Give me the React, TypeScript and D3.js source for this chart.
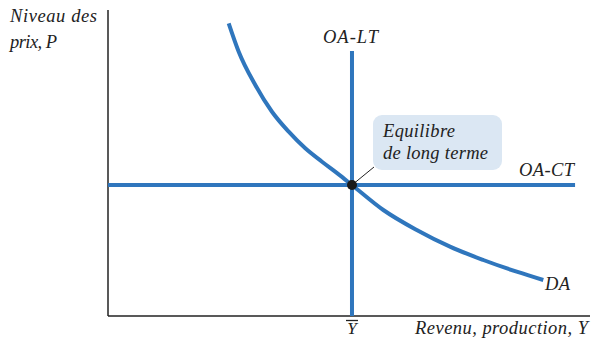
import React from "react";
import * as d3 from "d3";

// Aggregate demand curve (DA) points: [output Y, price level P]
const daY = [25.04, 27.12, 30.56, 34.02, 37.49, 40.93, 44.4, 47.86, 50.62, 57.12, 64.05, 70.95, 77.86, 84.79, 90.31];
const daP = [95.65, 86.37, 75.49, 66.76, 60.23, 54.8, 50.42, 46.3, 42.81, 34.64, 28.1, 22.65, 18.3, 14.48, 11.76];
const potentialY = 50.62; // Ȳ, OA-LT
const equilibriumP = 42.81; // OA-CT price level
const oaltTop = 86.6;
const oactRight = 96.9;
const yAxisLabel = ["Niveau des", "prix, P"];
const xAxisLabel = "Revenu, production, Y";
const ybarLabel = "Y";
const oaltLabel = "OA-LT";
const oactLabel = "OA-CT";
const daLabel = "DA";
const calloutLines = ["Equilibre", "de long terme"];

export default function App() {
  const W = 591, H = 339;
  const x = d3.scaleLinear().domain([0, 100]).range([108, 590]);
  const y = d3.scaleLinear().domain([0, 100]).range([316, 10]);
  const blue = "#2f76bd";
  const font = "Liberation Serif, DejaVu Serif, Times New Roman, serif";
  const pts: [number, number][] = daY.map((v, i) => [v, daP[i]]);
  const line = d3
    .line<[number, number]>()
    .x((d) => x(d[0]))
    .y((d) => y(d[1]))
    .curve(d3.curveMonotoneX);
  const ex = x(potentialY), ey = y(equilibriumP);
  const tp = { fontFamily: font, fontStyle: "italic", fontSize: 18.5, fill: "#222", lengthAdjust: "spacing" } as const;
  return (
    <svg width={W} height={H} style={{ position: "absolute", left: 0, top: 0 }}>
      <rect width={W} height={H} fill="#fff" />
      {/* callout */}
      <rect x={373} y={115} width={129} height={55} rx={9} fill="#dbe7f3" />
      <line x1={ex} y1={ey} x2={374} y2={167} stroke="#222" strokeWidth={1} />
      <text x={383} y={137} textLength={72} {...tp}>{calloutLines[0]}</text>
      <text x={383} y={159} textLength={105} {...tp}>{calloutLines[1]}</text>
      {/* axes */}
      <line x1={x(0)} y1={y(100)} x2={x(0)} y2={y(0)} stroke="#222" strokeWidth={1.5} />
      <line x1={x(0)} y1={y(0)} x2={x(100)} y2={y(0)} stroke="#222" strokeWidth={1.5} />
      {/* OA-CT */}
      <line x1={x(0)} y1={ey} x2={x(oactRight)} y2={ey} stroke={blue} strokeWidth={4} />
      {/* OA-LT */}
      <line x1={ex} y1={y(oaltTop)} x2={ex} y2={y(0)} stroke={blue} strokeWidth={4} />
      {/* DA */}
      <path d={line(pts) || ""} fill="none" stroke={blue} strokeWidth={4} />
      <circle cx={ex} cy={ey} r={5} fill="#1a1a1a" />
      {/* labels */}
      <text x={10} y={22} textLength={87} {...tp}>{yAxisLabel[0]}</text>
      <text x={10} y={48} textLength={47} {...tp}>{yAxisLabel[1]}</text>
      <text x={323} y={43} textLength={55} {...tp}>{oaltLabel}</text>
      <text x={519} y={176} textLength={55} {...tp}>{oactLabel}</text>
      <text x={545} y={290} textLength={25} {...tp}>{daLabel}</text>
      <text x={ex} y={334} textAnchor="middle" fontFamily={font} fontStyle="italic" fontSize={17} fill="#222">{ybarLabel}</text>
      <line x1={ex - 6} y1={320.5} x2={ex + 6} y2={320.5} stroke="#222" strokeWidth={1.3} />
      <text x={415} y={334} textLength={173} {...tp}>{xAxisLabel}</text>
    </svg>
  );
}
